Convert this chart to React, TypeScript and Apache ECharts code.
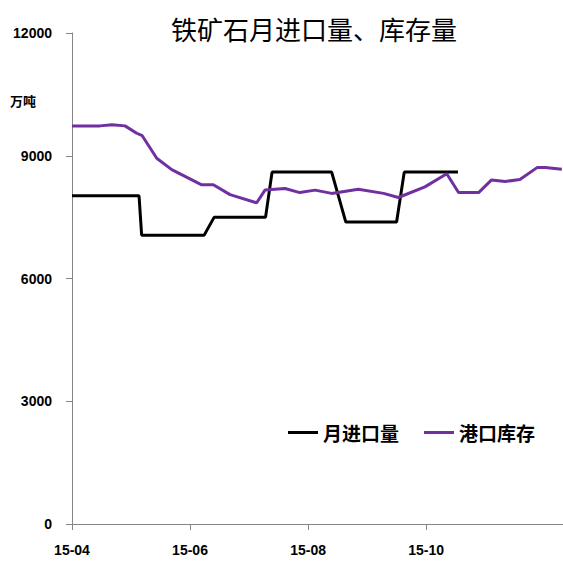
import React, { useEffect, useRef } from "react";
import * as echarts from "echarts";

// x positions are months since 2015-04
const importMonths = [0, 1.136, 1.18, 2.24, 2.41, 3.28, 3.39, 4.4, 4.64, 5.5, 5.63, 6.54];
const importValues = [8020, 8020, 7060, 7060, 7500, 7500, 8600, 8600, 7380, 7380, 8600, 8600];

const stockMonths = [0, 0.475, 0.678, 0.898, 1.097, 1.19, 1.436, 1.69, 2.198, 2.395, 2.678, 3.13, 3.27, 3.61, 3.86, 4.12, 4.4, 4.85, 5.28, 5.53, 5.98, 6.35, 6.55, 6.89, 7.11, 7.34, 7.59, 7.88, 8.02, 8.3];
const stockValues = [9730, 9730, 9760, 9730, 9550, 9490, 8940, 8660, 8290, 8290, 8050, 7850, 8160, 8200, 8100, 8160, 8080, 8180, 8080, 7980, 8240, 8560, 8100, 8100, 8410, 8370, 8420, 8710, 8710, 8670];

const tickMonths = [0, 2, 4, 6];

const seriesNames = ["月进口量", "港口库存"];
const titleText = "铁矿石月进口量、库存量";
const unitText = "万吨";

function monthLabel(m: number): string {
  const mm = 4 + Math.round(m);
  return "15-" + (mm < 10 ? "0" + mm : String(mm));
}

export default function App() {
  const ref = useRef<HTMLDivElement>(null);
  useEffect(() => {
    if (!ref.current) return;
    const chart = echarts.init(ref.current, null, { renderer: "svg" });
    const font = "'Noto Sans CJK SC', 'Liberation Sans', sans-serif";
    chart.setOption({
      animation: false,
      backgroundColor: "#ffffff",
      title: {
        text: titleText,
        left: 309,
        top: 10,
        textAlign: "center",
        textStyle: { fontFamily: font, fontSize: 26, fontWeight: "normal", color: "#000" },
      },
      graphic: [
        {
          type: "text",
          left: 10,
          top: 94,
          style: { text: unitText, font: `bold 13px ${font}`, fill: "#000" },
        },
      ],
      legend: {
        left: 288,
        top: 423,
        padding: 0,
        icon: "rect",
        itemWidth: 30,
        itemHeight: 3,
        itemGap: 25,
        textStyle: { fontFamily: font, fontSize: 19, fontWeight: "bold", color: "#000" },
        data: seriesNames,
      },
      grid: { left: 72, right: 0, top: 33, bottom: 38, containLabel: false },
      xAxis: {
        type: "value",
        min: 0,
        max: 8.32,
        splitLine: { show: false },
        axisLine: { lineStyle: { color: "#868686", width: 1 } },
        axisTick: { show: true, length: 6, customValues: tickMonths, lineStyle: { color: "#868686" } },
        axisLabel: {
          customValues: tickMonths,
          formatter: (v: number) => monthLabel(v),
          margin: 19,
          fontFamily: "'Liberation Sans', sans-serif",
          fontSize: 14,
          fontWeight: "bold",
          color: "#000",
        },
      },
      yAxis: {
        type: "value",
        min: 0,
        max: 12000,
        interval: 3000,
        splitLine: { show: false },
        axisLine: { show: true, lineStyle: { color: "#868686", width: 1 } },
        axisTick: { show: true, length: 6, lineStyle: { color: "#868686" } },
        axisLabel: {
          margin: 20,
          formatter: (v: number) => String(v),
          fontFamily: "'Liberation Sans', sans-serif",
          fontSize: 14,
          fontWeight: "bold",
          color: "#000",
        },
      },
      series: [
        {
          name: seriesNames[0],
          type: "line",
          symbol: "none",
          lineStyle: { color: "#000000", width: 3 },
          itemStyle: { color: "#000000" },
          data: importMonths.map((m, i) => [m, importValues[i]]),
        },
        {
          name: seriesNames[1],
          type: "line",
          symbol: "none",
          lineStyle: { color: "#7030A0", width: 3 },
          itemStyle: { color: "#7030A0" },
          data: stockMonths.map((m, i) => [m, stockValues[i]]),
        },
      ],
    });
    return () => chart.dispose();
  }, []);
  return (
    <div
      ref={ref}
      style={{ position: "fixed", left: 0, top: 0, width: 563, height: 562, background: "#fff" }}
    />
  );
}
